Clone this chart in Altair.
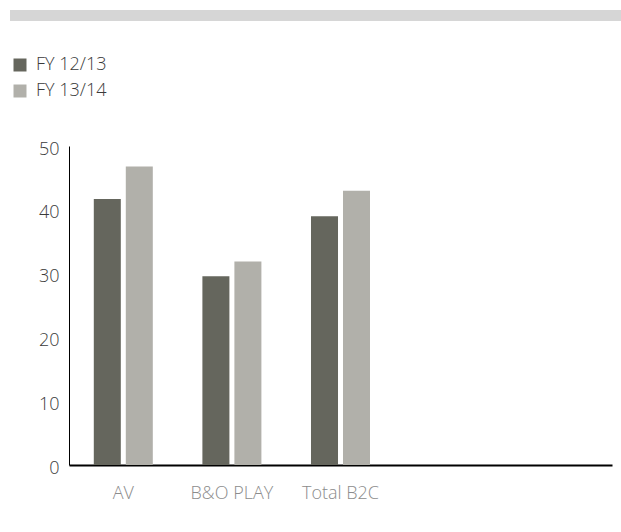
import altair as alt
import pandas as pd

# Segment revenue by fiscal year
categories = ["AV", "B&O PLAY", "Total B2C"]
fy_1213 = [41.7, 29.6, 39.0]
fy_1314 = [46.8, 31.9, 43.0]
series = ["FY 12/13", "FY 13/14"]

# Two empty slots keep the bar groups on the left of the axis
x_domain = categories + [" ", "  "]

rows = []
for cat, a, b in zip(categories, fy_1213, fy_1314):
    rows.append({"segment": cat, "year": series[0], "value": a})
    rows.append({"segment": cat, "year": series[1], "value": b})
df = pd.DataFrame(rows)

FONT = "Open Sans"

bars = alt.Chart(df).mark_bar().encode(
    x=alt.X(
        "segment:N",
        scale=alt.Scale(domain=x_domain, paddingInner=0, paddingOuter=0),
        axis=alt.Axis(
            title=None, labelAngle=0, ticks=False, domainColor="#000000",
            domainWidth=2, labelColor="#8c8c8c", labelFontSize=18,
            labelFontWeight=300, labelPadding=19, labelFont=FONT,
        ),
    ),
    xOffset=alt.XOffset(
        "year:N", scale=alt.Scale(paddingInner=0.156, paddingOuter=0.775)
    ),
    y=alt.Y(
        "value:Q",
        scale=alt.Scale(domain=[0, 50], nice=False),
        axis=alt.Axis(
            title=None, values=[0, 10, 20, 30, 40, 50], grid=False, ticks=False,
            domainColor="#000000", domainWidth=1, labelColor="#3a3a3a",
            labelFontSize=18, labelFontWeight=300, labelPadding=10,
            labelOffset=3, labelFont=FONT,
        ),
    ),
    color=alt.Color(
        "year:N",
        scale=alt.Scale(domain=series, range=["#65665d", "#b1b0aa"]),
        legend=alt.Legend(
            title=None, orient="none", legendX=-58, legendY=-90,
            symbolType="square", symbolSize=169, symbolStrokeWidth=0,
            labelFontSize=18, labelFontWeight=300, labelColor="#3a3a3a",
            labelFont=FONT, labelOffset=7, rowPadding=8,
        ),
    ),
)

# Light header band across the top
header = alt.Chart(pd.DataFrame({"k": [0]})).mark_rule(
    color="#d6d6d6", strokeWidth=11, clip=False
).encode(x=alt.value(-59), x2=alt.value(552), y=alt.value(-130.5))

chart = (
    alt.layer(header, bars)
    .properties(
        width=543, height=319,
        padding={"left": 69, "top": 146, "right": 9, "bottom": 67},
        autosize=alt.AutoSizeParams(type="none"),
    )
    .configure_view(stroke=None)
)

chart.save("out.html", embed_options={"renderer": "svg", "actions": False})
